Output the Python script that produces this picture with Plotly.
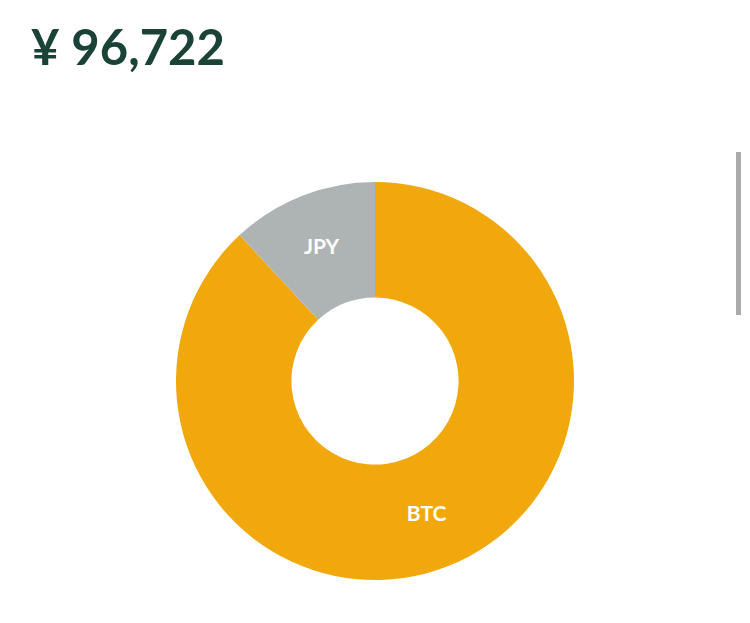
import plotly.graph_objects as go

labels = ["BTC", "JPY"]
values = [85212, 11510]
colors = ["#F1A80C", "#AEB4B3"]
total_label = "¥ 96,722"

# page is offset by the default 8px body margin
OX, OY = 8, 8
W, H = 750, 623

def px(x):
    return (x - OX) / W

def py(y):
    return 1 - (y - OY) / H

cx, cy, r = 375, 381, 199
fig = go.Figure(go.Pie(
    labels=labels,
    values=values,
    hole=0.42,
    sort=False,
    direction="clockwise",
    rotation=0,
    marker=dict(colors=colors, line=dict(width=0)),
    textinfo="label",
    textposition="inside",
    insidetextorientation="horizontal",
    textfont=dict(color="white", size=21, family="Lato"),
    texttemplate="<b>%{label}</b>",
    domain=dict(x=[px(cx - 230), px(cx + 230)], y=[py(cy + r), py(cy - r)]),
    showlegend=False,
    hoverinfo="label+value",
))

fig.add_annotation(
    text="<b>" + total_label + "</b>",
    x=px(29), y=py(15),
    xref="paper", yref="paper",
    xanchor="left", yanchor="top",
    showarrow=False,
    font=dict(size=49, color="#1B4236", family="Lato"),
)

fig.add_shape(
    type="rect", xref="paper", yref="paper",
    x0=px(736), x1=px(741), y0=py(315), y1=py(152),
    fillcolor="#ABABAB", line=dict(width=0),
)

fig.update_layout(
    width=W, height=H,
    margin=dict(l=0, r=0, t=0, b=0),
    paper_bgcolor="white",
    plot_bgcolor="white",
)

fig.write_html("out.html")
